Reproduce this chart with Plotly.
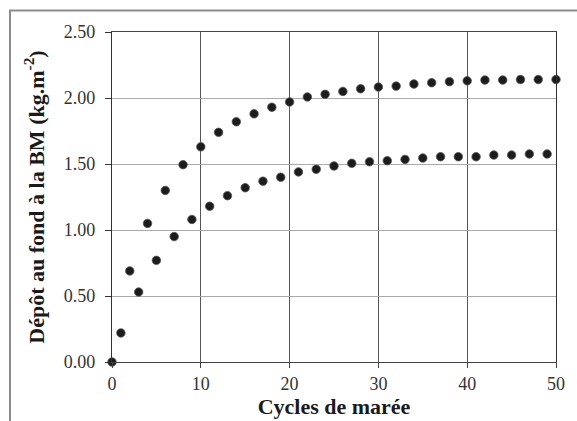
import plotly.graph_objects as go

# Upper series (even tidal cycles)
x_upper = [0, 2, 4, 6, 8, 10, 12, 14, 16, 18, 20, 22, 24, 26, 28, 30, 32, 34, 36, 38, 40, 42, 44, 46, 48, 50]
y_upper = [0.00, 0.69, 1.05, 1.30, 1.495, 1.63, 1.74, 1.82, 1.88, 1.93, 1.97, 2.008, 2.028, 2.05, 2.07, 2.083,
           2.09, 2.106, 2.116, 2.124, 2.13, 2.136, 2.136, 2.14, 2.14, 2.14]

# Lower series (odd tidal cycles)
x_lower = [1, 3, 5, 7, 9, 11, 13, 15, 17, 19, 21, 23, 25, 27, 29, 31, 33, 35, 37, 39, 41, 43, 45, 47, 49]
y_lower = [0.22, 0.53, 0.77, 0.95, 1.08, 1.18, 1.26, 1.32, 1.37, 1.40, 1.44, 1.46, 1.485, 1.505, 1.517, 1.525,
           1.535, 1.545, 1.555, 1.555, 1.555, 1.568, 1.568, 1.576, 1.576]

x_ticks = [0, 10, 20, 30, 40, 50]
y_ticks = [0.0, 0.5, 1.0, 1.5, 2.0, 2.5]
y_ticklabels = ["0.00", "0.50", "1.00", "1.50", "2.00", "2.50"]

marker = dict(size=8.5, color="#1c1c1c", line=dict(width=0.8, color="#555555"))

fig = go.Figure()
fig.add_trace(go.Scatter(x=x_upper, y=y_upper, mode="markers", marker=marker, showlegend=False, cliponaxis=False))
fig.add_trace(go.Scatter(x=x_lower, y=y_lower, mode="markers", marker=marker, showlegend=False, cliponaxis=False))

W, H = 577, 421
L, R, T, B = 112, 21, 32, 59
pw, ph = W - L - R, H - T - B

def px_x(p):
    return (p - L) / pw

def px_y(p):
    return (H - B - p) / ph

font_fam = "Liberation Serif, Times New Roman, serif"

fig.update_layout(
    width=W, height=H,
    margin=dict(l=L, r=R, t=T, b=B),
    paper_bgcolor="white", plot_bgcolor="white",
    font=dict(family=font_fam, size=18, color="#333333"),
    xaxis=dict(
        range=[0, 50], tickvals=x_ticks, ticktext=[str(v) for v in x_ticks],
        showgrid=True, gridcolor="#555555", gridwidth=1,
        showline=True, linecolor="#444444", linewidth=1.3, mirror=True,
        ticks="outside", ticklen=5, tickcolor="#444444",
        zeroline=False, automargin=False,
        title=dict(text="<b>Cycles de marée</b>", font=dict(family=font_fam, size=22, color="#1a1a1a"), standoff=3),
    ),
    yaxis=dict(
        range=[0, 2.5], tickvals=y_ticks, ticktext=y_ticklabels,
        showgrid=True, gridcolor="#aaaaaa", gridwidth=1,
        showline=True, linecolor="#333333", linewidth=1.3, mirror=True,
        ticks="outside", ticklen=6, tickcolor="#333333", ticklabelstandoff=6,
        zeroline=False, automargin=False,
        title=dict(text="<b>Dépôt au fond à la BM (kg.m<sup>-2</sup>)</b>",
                   font=dict(family=font_fam, size=22, color="#1a1a1a"), standoff=13),
    ),
    shapes=[
        dict(type="line", xref="paper", yref="paper", x0=px_x(10), x1=px_x(10), y0=px_y(430), y1=px_y(10.5),
             line=dict(color="#8c8c8c", width=2)),
        dict(type="line", xref="paper", yref="paper", x0=px_x(9), x1=px_x(590), y0=px_y(10.5), y1=px_y(10.5),
             line=dict(color="#8c8c8c", width=2)),
    ],
)

fig.write_html("out.html")
